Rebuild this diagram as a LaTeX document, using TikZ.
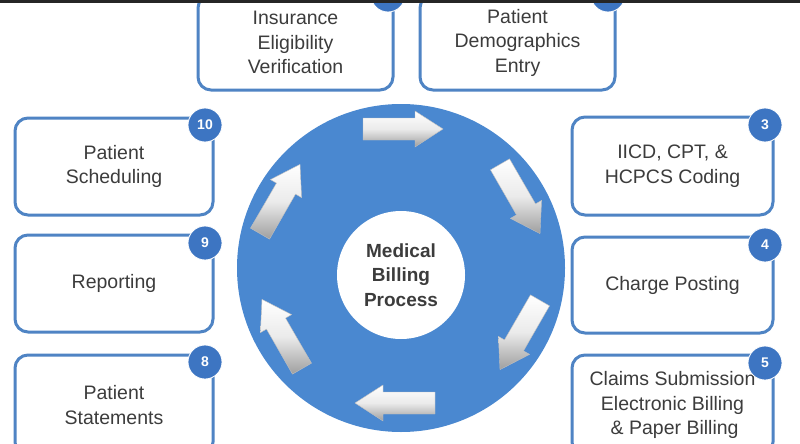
\documentclass[tikz,border=0pt]{standalone}
\usepackage{fontspec}
\setmainfont{Liberation Sans}
\definecolor{boxblue}{HTML}{4F84C4}
\definecolor{ringblue}{HTML}{4A88D0}
\definecolor{badgeblue}{HTML}{3D75C2}
\definecolor{txt}{HTML}{3C3C3C}
\tikzset{
  box/.style={draw=boxblue, line width=3pt, rounded corners=13pt, fill=white,
    align=center, text=txt, font=\fontsize{19.5}{24.5}\selectfont, inner sep=0pt},
  badge/.style={circle, fill=badgeblue, draw=white, line width=0.8pt, minimum size=34pt,
    inner sep=0pt, text=white, font=\bfseries\fontsize{14}{14}\selectfont},
  flowarrow/.style={draw=black!25, line width=0.4pt, top color=white, bottom color=black!38, middle color=black!8}
}
\begin{document}
\begin{tikzpicture}[x=1pt,y=-1pt]
\useasboundingbox (0,0) rectangle (800,444);
\fill[white] (0,0) rectangle (800,444);
% ring
\fill[ringblue] (401,268) circle[radius=164];
\node[circle, fill=white, minimum size=128pt, inner sep=0pt, align=center, text=txt,
  font=\bfseries\fontsize{19}{24.5}\selectfont] (center) at (401,275) {Medical\\Billing\\Process};
% arrows
\foreach \px/\py/\rot [count=\i] in {403/129/0, 520/199/-60, 520/335/-120, 395/403/180, 282/334/120, 280/199/60}{
  \begin{scope}[shift={(\px,\py)}, rotate=\rot]
    \shade[flowarrow] (-40,-11) -- (12,-11) -- (12,-18) -- (40,0) -- (12,18) -- (12,11) -- (-40,11) -- cycle;
  \end{scope}
}
% boxes
\node[box, minimum width=195pt, minimum height=95pt] (b1) at (295.5,42.5) {Insurance\\Eligibility\\Verification};
\node[box, minimum width=195pt, minimum height=95pt] (b2) at (517.5,42.5) {Patient\\Demographics\\Entry};
\node[box, minimum width=201pt, minimum height=98pt] (b3) at (672.5,166) {IICD, CPT, \&\\HCPCS Coding};
\node[box, minimum width=201pt, minimum height=96pt] (b4) at (672.5,285) {Charge Posting};
\node[box, minimum width=201pt, minimum height=100pt] (b5) at (672.5,405) {Claims Submission\\Electronic Billing\\\phantom{i}\& Paper Billing};
\node[box, minimum width=198pt, minimum height=97pt] (b10) at (114,166.5) {Patient\\Scheduling};
\node[box, minimum width=198pt, minimum height=97pt] (b9) at (114,283.5) {Reporting};
\node[box, minimum width=198pt, minimum height=100pt] (b8) at (114,405) {Patient\\Statements};
% badges
\node[badge] (n1) at (388,-5) {1};
\node[badge] (n2) at (608,-5) {2};
\node[badge] (n3) at (765,125) {3};
\node[badge] (n4) at (765,245) {4};
\node[badge] (n5) at (765,363) {5};
\node[badge] (n8) at (205,362) {8};
\node[badge] (n9) at (205,243) {9};
\node[badge] (n10) at (205,125) {10};
% top dark band
\fill[black!85] (0,0) rectangle (800,3);
\end{tikzpicture}
\end{document}
